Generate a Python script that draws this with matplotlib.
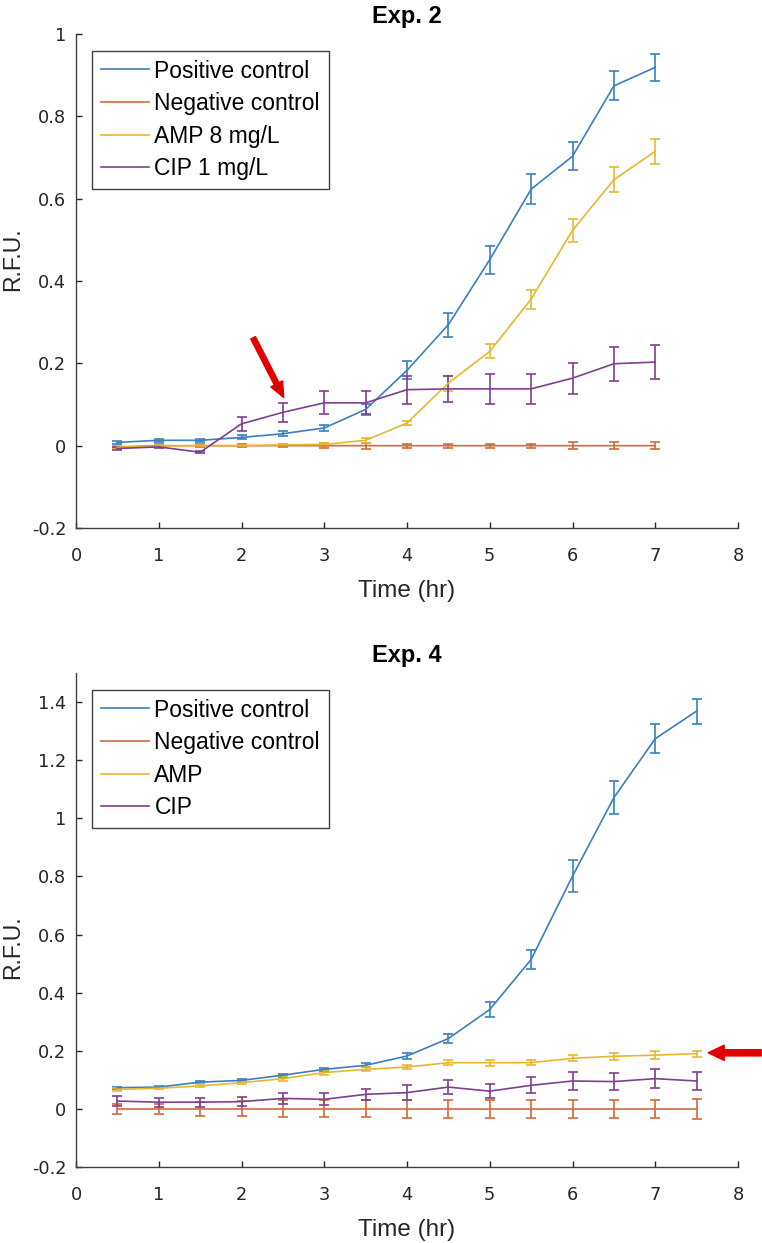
import matplotlib
matplotlib.use("Agg")
import matplotlib.pyplot as plt

plt.rcParams['font.family'] = ['Liberation Sans', 'DejaVu Sans']

# series labels and colours
labels_exp2 = ['Positive control', 'Negative control', 'AMP 8 mg/L', 'CIP 1 mg/L']
labels_exp4 = ['Positive control', 'Negative control', 'AMP', 'CIP']
colors = ['#3a7fc1', '#d4693b', '#e8b730', '#7e3f8f']

# Exp. 2 (hours 0.5 .. 7)
t2 = [0.5, 1, 1.5, 2, 2.5, 3, 3.5, 4, 4.5, 5, 5.5, 6, 6.5, 7]
pos2 = [0.008, 0.013, 0.013, 0.020, 0.029, 0.043, 0.088, 0.183, 0.294, 0.452, 0.623, 0.703, 0.874, 0.919]
pos2_err = [0.003, 0.003, 0.003, 0.005, 0.006, 0.007, 0.014, 0.022, 0.029, 0.034, 0.036, 0.034, 0.035, 0.032]
neg2 = [-0.003, 0, 0, 0, 0, 0, 0, 0, 0, 0, 0, 0, 0, 0]
neg2_err = [0.003, 0.003, 0.003, 0.004, 0.004, 0.006, 0.007, 0.005, 0.005, 0.005, 0.005, 0.008, 0.008, 0.008]
amp2 = [-0.004, -0.001, 0, 0, 0.002, 0.003, 0.013, 0.055, 0.152, 0.229, 0.356, 0.523, 0.646, 0.715]
amp2_err = [0.002, 0.002, 0.002, 0.002, 0.003, 0.004, 0.006, 0.006, 0.018, 0.017, 0.023, 0.028, 0.030, 0.030]
cip2 = [-0.007, -0.003, -0.016, 0.053, 0.081, 0.104, 0.104, 0.136, 0.138, 0.138, 0.138, 0.164, 0.199, 0.203]
cip2_err = [0.003, 0.003, 0.003, 0.017, 0.023, 0.028, 0.028, 0.034, 0.031, 0.036, 0.036, 0.038, 0.041, 0.042]

# Exp. 4 (hours 0.5 .. 7.5)
t4 = [0.5, 1, 1.5, 2, 2.5, 3, 3.5, 4, 4.5, 5, 5.5, 6, 6.5, 7, 7.5]
pos4 = [0.073, 0.075, 0.092, 0.098, 0.116, 0.136, 0.150, 0.182, 0.242, 0.342, 0.514, 0.801, 1.071, 1.274, 1.369]
pos4_err = [0.004, 0.004, 0.004, 0.005, 0.005, 0.006, 0.007, 0.009, 0.015, 0.026, 0.034, 0.056, 0.057, 0.051, 0.043]
neg4 = [0, 0, 0, 0, 0, 0, 0, 0, 0, 0, 0, 0, 0, 0, 0]
neg4_err = [0.016, 0.016, 0.023, 0.026, 0.029, 0.029, 0.029, 0.030, 0.030, 0.032, 0.032, 0.032, 0.032, 0.032, 0.034]
amp4 = [0.067, 0.071, 0.079, 0.090, 0.104, 0.125, 0.136, 0.144, 0.159, 0.159, 0.159, 0.174, 0.181, 0.185, 0.190]
amp4_err = [0.004, 0.004, 0.005, 0.006, 0.008, 0.008, 0.007, 0.006, 0.008, 0.010, 0.008, 0.010, 0.012, 0.013, 0.010]
cip4 = [0.027, 0.023, 0.023, 0.025, 0.036, 0.033, 0.050, 0.056, 0.075, 0.061, 0.081, 0.096, 0.094, 0.104, 0.096]
cip4_err = [0.018, 0.015, 0.015, 0.016, 0.020, 0.020, 0.020, 0.025, 0.023, 0.024, 0.028, 0.030, 0.029, 0.032, 0.030]

exp2_series = [(pos2, pos2_err), (neg2, neg2_err), (amp2, amp2_err), (cip2, cip2_err)]
exp4_series = [(pos4, pos4_err), (neg4, neg4_err), (amp4, amp4_err), (cip4, cip4_err)]

axis_col = '#262626'

fig = plt.figure(figsize=(7.62, 12.43), dpi=100)
ax1 = fig.add_axes([76/762, 1-528/1243, 662/762, 494/1243])
ax2 = fig.add_axes([76/762, 1-1167/1243, 662/762, 494/1243])


def draw(ax, t, series, labels, title, ylim, yticks, ylab_y):
    handles = []
    for (y, e), lab, c in zip(series, labels, colors):
        eb = ax.errorbar(t, y, yerr=e, color=c, lw=1.2, elinewidth=1.2,
                         capsize=3.6, capthick=1.2, label=lab)
        handles.append(eb[0])
    ax.set_xlim(0, 8)
    ax.set_ylim(*ylim)
    ax.set_xticks(range(0, 9))
    ax.set_yticks(yticks)
    ax.set_yticklabels(['%g' % v for v in yticks])
    for s in ['top', 'right']:
        ax.spines[s].set_visible(False)
    for s in ['left', 'bottom']:
        ax.spines[s].set_color('#404040')
        ax.spines[s].set_linewidth(1.0)
    ax.tick_params(direction='in', length=4, width=1, colors=axis_col,
                   labelsize=12.8, labelfontfamily='DejaVu Sans')
    ax.tick_params(axis='x', pad=14)
    ax.tick_params(axis='y', pad=7)
    ax.set_title(title, fontsize=17, fontweight='bold', pad=8)
    ax.set_xlabel('Time (hr)', fontsize=17.5, color=axis_col)
    ax.xaxis.set_label_coords(0.5, -0.127)
    ax.xaxis.label.set_verticalalignment('center')
    ax.set_ylabel('R.F.U.', fontsize=16.5, color=axis_col)
    ax.yaxis.set_label_coords(-0.095, ylab_y)
    ax.yaxis.label.set_verticalalignment('center')
    leg = ax.legend(handles=handles, labels=labels, loc='upper left',
                    bbox_to_anchor=(0.024, 0.966), borderaxespad=0,
                    fontsize=16.5, fancybox=False, framealpha=1,
                    edgecolor='#404040', handlelength=2.1, handletextpad=0.25,
                    labelspacing=0.42, borderpad=0.38)
    leg.get_frame().set_linewidth(1.0)


yt2 = [-0.2, 0, 0.2, 0.4, 0.6, 0.8, 1]
yt4 = [-0.2, 0, 0.2, 0.4, 0.6, 0.8, 1, 1.2, 1.4]
draw(ax1, t2, exp2_series, labels_exp2, 'Exp. 2', (-0.2, 1), yt2, 0.545)
draw(ax2, t4, exp4_series, labels_exp4, 'Exp. 4', (-0.2, 1.5), yt4, 0.445)

# red arrows
ax1.annotate('', xy=(2.51, 0.117), xytext=(2.14, 0.262),
             arrowprops=dict(arrowstyle='simple,head_length=1.1,head_width=0.95,tail_width=0.38',
                             color='#e00000', mutation_scale=10, shrinkA=0, shrinkB=0))
ax2.annotate('', xy=(7.64, 0.193), xytext=(8.28, 0.193), annotation_clip=False,
             arrowprops=dict(arrowstyle='simple,head_length=1.15,head_width=1.1,tail_width=0.45',
                             color='#e00000', mutation_scale=10, shrinkA=0, shrinkB=0,
                             clip_on=False))

fig.savefig('out.png', dpi=100)
